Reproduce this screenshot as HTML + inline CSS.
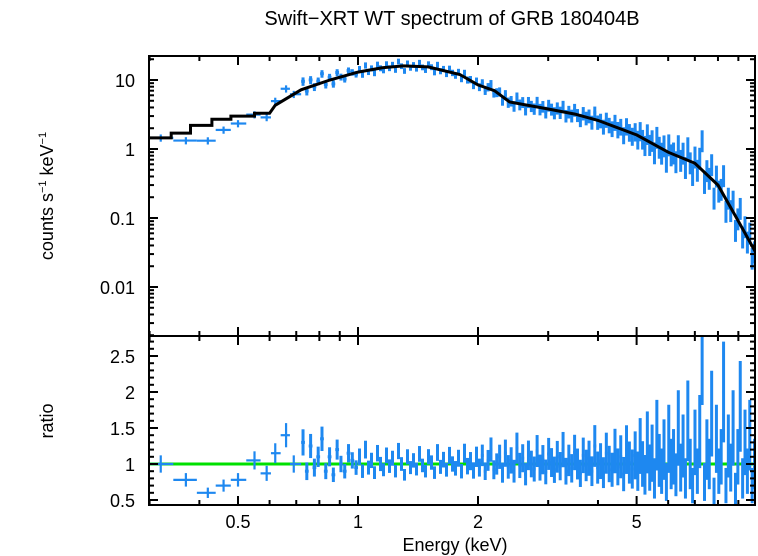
<!DOCTYPE html>
<html><head><meta charset="utf-8"><style>
body{margin:0;background:#fff}
svg{display:block;font-family:"Liberation Sans",sans-serif}
</style></head><body>
<svg id="c" width="758" height="556" viewBox="0 0 758 556">
<text x="452" y="25" font-size="20" text-anchor="middle">Swift−XRT WT spectrum of GRB 180404B</text>
<text transform="translate(53,196) rotate(-90)" font-size="18" text-anchor="middle">counts s<tspan font-size="11" dy="-7">−1</tspan><tspan dy="7"> keV</tspan><tspan font-size="11" dy="-7">−1</tspan></text>
<text transform="translate(53,421) rotate(-90)" font-size="18" text-anchor="middle">ratio</text>
<text x="455" y="551" font-size="18" text-anchor="middle">Energy (keV)</text>
<g id="g"></g>
</svg>
<script>
const modelE=[0.3,0.34,0.34,0.38,0.38,0.43,0.43,0.48,0.48,0.55,0.55,0.6,0.62,0.72,0.85,1.0,1.15,1.3,1.5,1.8,2.0,2.2,2.4,3.0,3.5,4.0,5.0,6.0,7.0,8.0,9.0,10];
const modelM=[1.45,1.45,1.7,1.7,2.2,2.2,2.7,2.7,3.0,3.0,3.3,3.3,4.3,7.2,10,13,15,16,15.5,12,8.5,7,4.8,3.8,3.2,2.6,1.6,0.9,0.62,0.3,0.09,0.03];
const lowE=[0.32,0.37,0.42,0.46,0.5,0.55,0.59,0.62,0.66,0.69];
const lowRatio=[1.0,0.78,0.6,0.7,0.78,1.05,0.87,1.15,1.4,1.0];
const groupBounds=[[0.72,1.0],[1.0,2.0],[2.0,5.0],[5.0,9.95]];
const ratioG1=[1.3,0.9,1.25,0.95,1.1,1.35,0.9,1.1,0.85,1.2,1.0,0.9,1.15,1.05,0.95];
const ratioG2=[1.1,0.9,1.2,0.95,1.05,0.88,1.15,1.0,0.92,1.12,0.97,1.08,0.9,1.18,1.0,0.85,1.1,0.95,1.05,0.93,1.14,0.98,0.9,1.1,1.02,0.88,1.16,0.96,1.06,0.92,1.12,1.0,0.94,1.08,0.9,1.15,0.97,1.04,0.91,1.1];
const ratioG3=[0.95,1.12,0.9,1.05,1.2,0.92,1.0,1.1,0.88,1.15,0.96,1.05,0.9,1.22,0.98,1.08,0.86,1.12,1.0,0.93,1.18,0.95,1.06,0.89,1.14,1.02,0.92,1.1,0.97,1.2,0.9,1.05,0.94,1.16,1.0,0.87,1.12,0.98,1.08,0.9,1.25,0.95,1.04,0.88,1.15,1.0,0.92,1.18,0.96,1.1,0.86,1.2,1.02,0.93,1.12];
const ratioG4=[0.9,1.25,1.0,0.85,1.3,0.95,1.15,0.8,1.4,1.05,0.9,1.2,0.75,1.35,1.0,1.1,0.85,1.5,0.95,1.25,0.8,1.6,1.0,0.7,1.3,0.9,1.45,2.8,0.75,1.2,1.0,1.7,0.6,1.35,0.9,1.1,2.0,0.7,1.25,0.95,1.5,0.65,1.1,1.8,0.8,1.3,0.9,1.4,0.7,1.0];
const xTickVals=[0.5,1,2,5];
const yTopTicks=[10,1,0.1,0.01];
const yTopLabels=["10","1","0.1","0.01"];
const yBotTicks=[0.5,1,1.5,2,2.5];

const L=149,R=755,T=56,M=336,B=505;
const X=e=>358+398.6*Math.log10(e);
const YT=v=>149-69*Math.log10(v);
const YB=r=>464-72*(r-1);
const NS='http://www.w3.org/2000/svg';
const g=document.getElementById('g');
function el(t,a,p){const e=document.createElementNS(NS,t);for(const k in a)e.setAttribute(k,a[k]);(p||g).appendChild(e);return e;}
function model(e){const le=Math.log10(e);for(let i=0;i<modelE.length-1;i++){const a=Math.log10(modelE[i]),b=Math.log10(modelE[i+1]);if(b===a)continue;if(le<=b||i===modelE.length-2){const t=(le-a)/(b-a);return Math.pow(10,Math.log10(modelM[i])*(1-t)+Math.log10(modelM[i+1])*t);}}}

const defs=el('defs',{});
const cp1=el('clipPath',{id:'ct'},defs);el('rect',{x:L,y:T,width:R-L,height:M-T},cp1);
const cp2=el('clipPath',{id:'cb'},defs);el('rect',{x:L,y:M,width:R-L,height:B-M},cp2);
const gt=el('g',{'clip-path':'url(#ct)'});


const gb=el('g',{'clip-path':'url(#cb)'});



const pts=[];
lowE.forEach((e,i)=>{const lo=i?Math.sqrt(lowE[i-1]*e):0.3, hi=i<lowE.length-1?Math.sqrt(lowE[i+1]*e):0.72;pts.push({e,r:lowRatio[i],lo,hi});});
[ratioG1,ratioG2,ratioG3,ratioG4].forEach((arr,gi)=>{const [a,b]=groupBounds[gi];const n=arr.length;const la=Math.log10(a),lb=Math.log10(b);
arr.forEach((r,i)=>{const e=Math.pow(10,la+(lb-la)*(i+0.5)/n);pts.push({e,r,lo:Math.pow(10,la+(lb-la)*i/n),hi:Math.pow(10,la+(lb-la)*(i+1)/n)});});});

const blue='#1e88f0';
const gl=el('line',{x1:L,x2:R,y1:YB(1),y2:YB(1),stroke:'#00e000','stroke-width':3},gb);



pts.forEach(p=>{
 const m=model(p.e);const c=m*p.r;
 let re=Math.min(0.35,0.12*Math.sqrt(10/m));if(p.e<0.72)re=0.12;
 const cx=X(p.e);
 const sw=p.e<0.72?2.2:3;
 const l1=el('line',{x1:X(p.lo),x2:X(p.hi),y1:YT(c),y2:YT(c),stroke:blue,'stroke-width':sw},gt);
 
 
 const l2=el('line',{x1:cx,x2:cx,y1:YT(c*(1+re)),y2:YT(Math.max(c*(1-re),1e-4)),stroke:blue,'stroke-width':sw},gt);
 
 
 const l3=el('line',{x1:X(p.lo),x2:X(p.hi),y1:YB(p.r),y2:YB(p.r),stroke:blue,'stroke-width':sw},gb);
 
 
 const l4=el('line',{x1:cx,x2:cx,y1:YB(p.r+re*p.r),y2:YB(p.r-re*p.r),stroke:blue,'stroke-width':sw},gb);
 
 
});

let d='';modelE.forEach((e,i)=>{d+=(i?'L':'M')+X(e).toFixed(1)+','+YT(modelM[i]).toFixed(1);});
const ml=el('path',{d,fill:'none',stroke:'#000','stroke-width':3},gt);



[[T,M],[M,B]].forEach(([a,b])=>{const f=el('rect',{x:L,y:a,width:R-L,height:b-a,fill:'none',stroke:'#000','stroke-width':2});

});

const minorX=[0.3,0.4,0.6,0.7,0.8,0.9,3,4,6,7,8,9];
function xt(e,len){[T,M,B].forEach(y=>{if(y!==B)el('line',{x1:X(e),x2:X(e),y1:y,y2:y+len,stroke:'#000','stroke-width':2});if(y!==T)el('line',{x1:X(e),x2:X(e),y1:y,y2:y-len,stroke:'#000','stroke-width':2});});}
minorX.forEach(e=>xt(e,5));xTickVals.forEach(e=>xt(e,9));
xTickVals.forEach(e=>{const t=el('text',{x:X(e),y:528,'font-size':18,'text-anchor':'middle'});t.textContent=String(e);

});

for(let dec=-3;dec<=1;dec++)for(let k=1;k<10;k++){const v=k*Math.pow(10,dec);const y=YT(v);if(y<T||y>M)continue;const len=k===1?9:5;
el('line',{x1:L,x2:L+len,y1:y,y2:y,stroke:'#000','stroke-width':2});el('line',{x1:R,x2:R-len,y1:y,y2:y,stroke:'#000','stroke-width':2});}
yTopTicks.forEach((v,i)=>{const t=el('text',{x:135,y:YT(v)+7,'font-size':18,'text-anchor':'end'});t.textContent=yTopLabels[i];

});

for(let r=0.5;r<=2.75;r+=0.1){const v=Math.round(r*10)/10;const y=YB(v);const maj=Math.abs(v*2-Math.round(v*2))<1e-6;const len=maj?9:5;
el('line',{x1:L,x2:L+len,y1:y,y2:y,stroke:'#000','stroke-width':2});el('line',{x1:R,x2:R-len,y1:y,y2:y,stroke:'#000','stroke-width':2});}
yBotTicks.forEach(v=>{const t=el('text',{x:135,y:YB(v)+7,'font-size':18,'text-anchor':'end'});t.textContent=String(v);

});
</script>
</body></html>
